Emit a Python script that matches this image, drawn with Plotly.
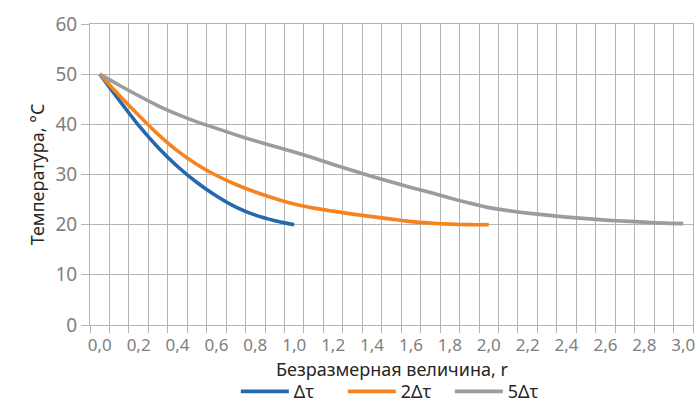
import plotly.graph_objects as go

# Dimensionless coordinate r (step 0.1)
r_1 = [0.0, 0.1, 0.2, 0.3, 0.4, 0.5, 0.6, 0.7, 0.8, 0.9, 1.0]
r_2 = [round(0.1 * i, 1) for i in range(21)]
r_5 = [round(0.1 * i, 1) for i in range(31)]

# Temperature profiles, °C
t_1 = [50.0, 44.8, 39.8, 35.4, 31.6, 28.4, 25.7, 23.5, 21.9, 20.8, 20.0]
t_2 = [50.0, 45.8, 41.8, 38.0, 34.7, 32.0, 29.8, 28.0, 26.5, 25.2, 24.1,
       23.3, 22.7, 22.1, 21.6, 21.1, 20.6, 20.3, 20.1, 20.0, 20.0]
t_5 = [50.0, 47.8, 45.7, 43.7, 42.0, 40.5, 39.2, 37.9, 36.7, 35.6, 34.5,
       33.3, 32.0, 30.8, 29.6, 28.5, 27.4, 26.4, 25.3, 24.3, 23.4,
       22.8, 22.3, 21.9, 21.5, 21.2, 20.9, 20.7, 20.5, 20.3, 20.2]

names = ["Δτ", "2Δτ", "5Δτ"]
colors = ["#2468AE", "#F5841F", "#9C9C9C"]

tick_vals = [round(0.2 * i, 1) for i in range(16)]
tick_text = [f"{v:.1f}".replace(".", ",") for v in tick_vals]

step = 0.1
bounds = [round(-step / 2 + step * k, 2) for k in range(32)]

x_title = "Безразмерная величина, r"
y_title = "Температура, °C"

grid = "#B4B4B4"
font = "Noto Sans"

fig = go.Figure()
for x, y, n, c in zip([r_1, r_2, r_5], [t_1, t_2, t_5], names, colors):
    fig.add_trace(go.Scatter(
        x=x, y=y, name=n, mode="lines",
        line=dict(color=c, width=3.6, shape="spline", smoothing=0.6),
    ))

# x-axis title placed below the tick labels
fig.add_annotation(
    text=x_title, xref="paper", yref="paper", x=0.5, y=0,
    xanchor="center", yanchor="middle", yshift=-44, showarrow=False,
    font=dict(size=18, color="#262626"),
)

fig.update_layout(
    width=700, height=403,
    margin=dict(l=90, r=7, t=24, b=78),
    paper_bgcolor="white", plot_bgcolor="white",
    font=dict(family=font, color="#262626"),
    showlegend=True,
    legend=dict(
        orientation="h", xref="paper", x=0.508, xanchor="center",
        yref="container", y=0.028, yanchor="middle",
        font=dict(size=18, color="#262626"),
        itemwidth=48, entrywidth=44, entrywidthmode="pixels",
        bgcolor="rgba(0,0,0,0)",
    ),
    xaxis=dict(
        range=[-0.05, 3.05], automargin=False,
        tickmode="array", tickvals=tick_vals, ticktext=tick_text,
        showgrid=False, ticks="", zeroline=False,
        tickfont=dict(size=17, color="#7F7F7F"),
        ticklabelstandoff=5,
        showline=True, mirror=True, linecolor=grid, linewidth=1,
        minor=dict(tickmode="array", tickvals=bounds, showgrid=True,
                   gridcolor=grid, gridwidth=1, ticks="outside",
                   ticklen=7, tickcolor=grid),
    ),
    yaxis=dict(
        range=[0, 60], dtick=10, tick0=0, automargin=False,
        showgrid=True, gridcolor=grid, gridwidth=1, zeroline=False,
        ticks="outside", ticklen=8, tickcolor=grid,
        tickfont=dict(size=19, color="#7F7F7F"),
        showline=True, mirror=True, linecolor=grid, linewidth=1,
        title=dict(text=y_title, standoff=6,
                   font=dict(size=18, color="#262626")),
    ),
)

fig.write_html("out.html")
